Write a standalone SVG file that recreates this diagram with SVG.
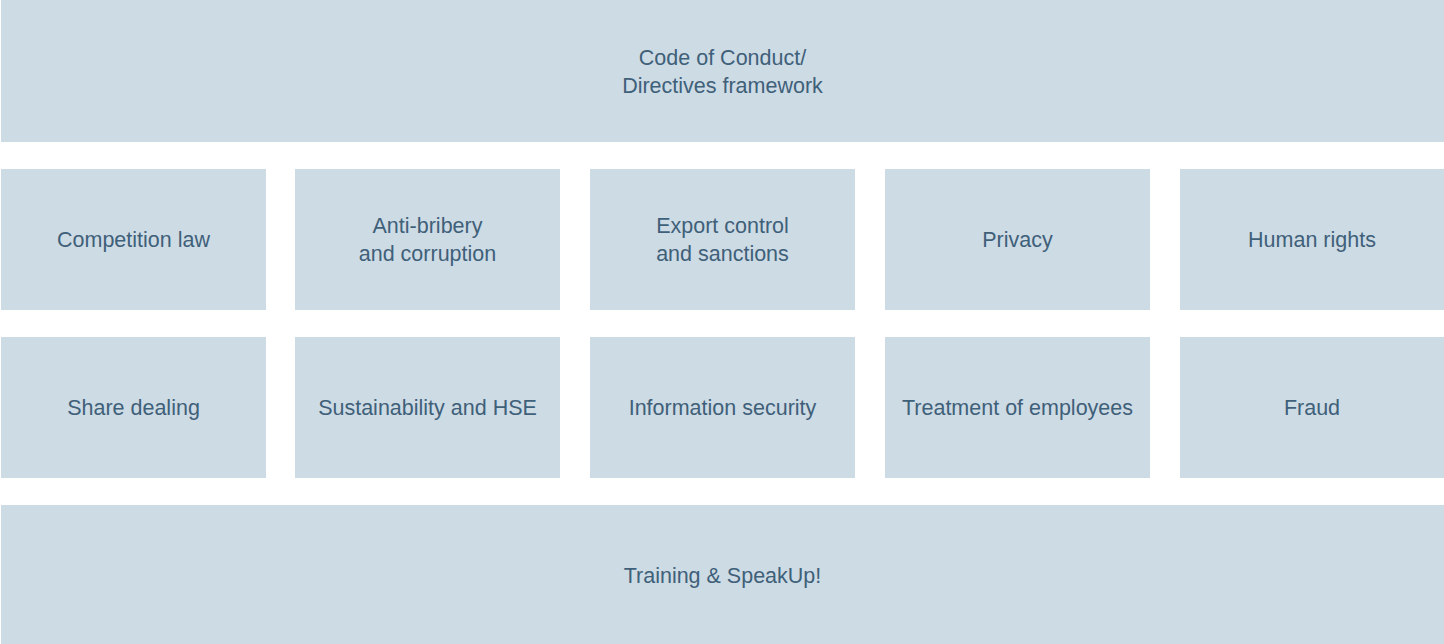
<svg xmlns="http://www.w3.org/2000/svg" width="1444" height="644" viewBox="0 0 1444 644">
<style>
.b{fill:#cddbe5}
.t{font-family:"Liberation Sans",Arial,sans-serif;font-size:21.5px;fill:#3f6079;text-anchor:middle}
</style>
<rect width="1444" height="644" fill="#ffffff"/>
<g id="code"><rect class="b" x="1" y="0" width="1443" height="142"/><text class="t" x="722.5" y="64.5">Code of Conduct/</text><text class="t" x="722.5" y="92.5">Directives framework</text></g>
<g id="competition"><rect class="b" x="1" y="169" width="265" height="141"/><text class="t" x="133.5" y="247">Competition law</text></g>
<g id="antibribery"><rect class="b" x="295" y="169" width="265" height="141"/><text class="t" x="427.5" y="233">Anti-bribery</text><text class="t" x="427.5" y="261">and corruption</text></g>
<g id="export"><rect class="b" x="590" y="169" width="265" height="141"/><text class="t" x="722.5" y="233">Export control</text><text class="t" x="722.5" y="261">and sanctions</text></g>
<g id="privacy"><rect class="b" x="885" y="169" width="265" height="141"/><text class="t" x="1017.5" y="247">Privacy</text></g>
<g id="humanrights"><rect class="b" x="1180" y="169" width="264" height="141"/><text class="t" x="1312" y="247">Human rights</text></g>
<g id="share"><rect class="b" x="1" y="337" width="265" height="141"/><text class="t" x="133.5" y="415">Share dealing</text></g>
<g id="sustainability"><rect class="b" x="295" y="337" width="265" height="141"/><text class="t" x="427.5" y="415">Sustainability and HSE</text></g>
<g id="infosec"><rect class="b" x="590" y="337" width="265" height="141"/><text class="t" x="722.5" y="415">Information security</text></g>
<g id="employees"><rect class="b" x="885" y="337" width="265" height="141"/><text class="t" x="1017.5" y="415">Treatment of employees</text></g>
<g id="fraud"><rect class="b" x="1180" y="337" width="264" height="141"/><text class="t" x="1312" y="415">Fraud</text></g>
<g id="training"><rect class="b" x="1" y="505" width="1443" height="139"/><text class="t" x="722.5" y="583">Training &amp; SpeakUp!</text></g>
<g id="connectors"/>
</svg>
